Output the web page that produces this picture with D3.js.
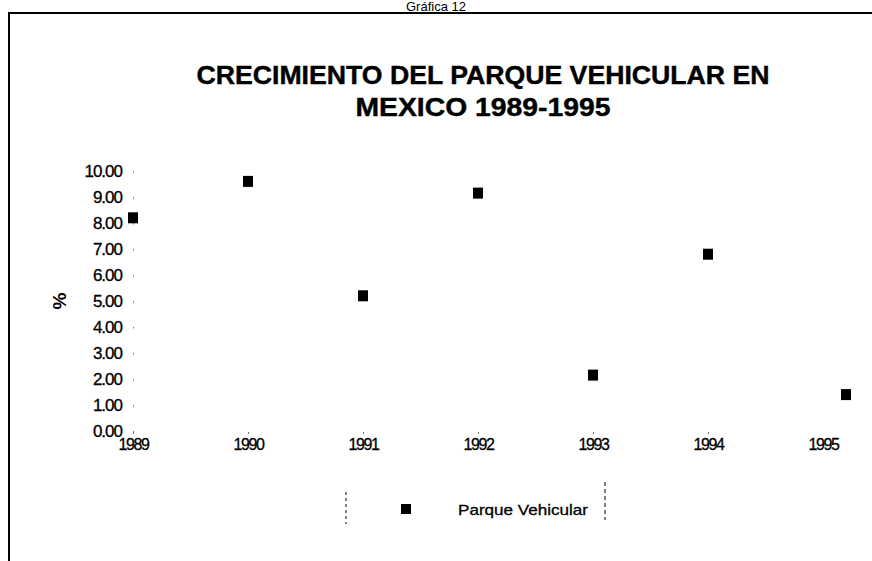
<!DOCTYPE html>
<html><head><meta charset="utf-8">
<script src="https://cdn.jsdelivr.net/npm/d3@7"></script>
<style>
html,body{margin:0;padding:0;background:#fff;}
text{font-family:"Liberation Sans",Arial,sans-serif;fill:#000;}
</style></head>
<body><svg id="c" width="872" height="561"></svg>
<script>
const years = [1989, 1990, 1991, 1992, 1993, 1994, 1995];
const xPositions = [1989, 1990, 1991, 1992, 1993, 1994, 1995.2];
const values = [8.2, 9.6, 5.2, 9.15, 2.15, 6.8, 1.4];
const yTicks = [0,1,2,3,4,5,6,7,8,9,10];
const seriesName = "Parque Vehicular";
const titleLines = ["CRECIMIENTO DEL PARQUE VEHICULAR EN", "MEXICO 1989-1995"];
const pageTitle = "Gráfica 12";

const svg = d3.select("#c");
const x = d3.scaleLinear().domain([1989, 1995]).range([133, 823]);
const y = d3.scaleLinear().domain([0, 10]).range([431, 171]);

// frame
svg.append("path").attr("d", "M9,561 V13 H872").attr("fill","none").attr("stroke","#000").attr("stroke-width",2);
svg.append("text").attr("x",436).attr("y",11).attr("text-anchor","middle").attr("font-size",13).text(pageTitle);

// title
svg.append("text").attr("x",483).attr("y",84).attr("text-anchor","middle").attr("font-size",25).attr("font-weight","bold")
  .attr("textLength",573).attr("lengthAdjust","spacingAndGlyphs").attr("stroke","#000").attr("stroke-width",0.4).text(titleLines[0]);
svg.append("text").attr("x",483).attr("y",116).attr("text-anchor","middle").attr("font-size",25).attr("font-weight","bold")
  .attr("textLength",255).attr("lengthAdjust","spacingAndGlyphs").attr("stroke","#000").attr("stroke-width",0.4).text(titleLines[1]);

// y axis
const yAxis = d3.axisLeft(y).tickValues(yTicks).tickFormat(d3.format(".2f")).tickSize(0).tickPadding(11);
const gy = svg.append("g").attr("transform","translate(133,0)").call(yAxis);
gy.select(".domain").remove();
gy.selectAll("text").attr("font-size",17).attr("letter-spacing","-1").attr("stroke","#000").attr("stroke-width",0.3)
  .style("font-family","'Liberation Sans',Arial,sans-serif");
gy.selectAll(".tick").append("rect").attr("x",0).attr("y",-0.5).attr("width",1).attr("height",1.5).attr("fill","#777");

// x axis
const xAxis = d3.axisBottom(x).tickValues(years).tickFormat(d3.format("d")).tickSize(0).tickPadding(7);
const gx = svg.append("g").attr("transform","translate(0,432)").call(xAxis);
gx.select(".domain").remove();
gx.selectAll("text").attr("font-size",16).attr("letter-spacing","-1.4").attr("stroke","#000").attr("stroke-width",0.3)
  .style("font-family","'Liberation Sans',Arial,sans-serif");
gx.selectAll(".tick").filter(d => d < 1995).append("rect").attr("x",-0.5).attr("y",0).attr("width",1).attr("height",2).attr("fill","#777");

// y label
svg.append("text").attr("transform","translate(66,301) rotate(-90)").attr("text-anchor","middle")
  .attr("font-size",19).attr("font-weight","bold").text("%");

// markers
svg.append("g").selectAll("rect").data(values).join("rect")
  .attr("x",(d,i)=>x(xPositions[i])-5).attr("y",d=>y(d)-5.5)
  .attr("width",10).attr("height",11).attr("fill","#000");

// legend
svg.append("line").attr("x1",346).attr("x2",346).attr("y1",492).attr("y2",524).attr("stroke","#000").attr("stroke-dasharray","3,3");
svg.append("line").attr("x1",605).attr("x2",605).attr("y1",482).attr("y2",520).attr("stroke","#000").attr("stroke-dasharray","4,3");
svg.append("rect").attr("x",401).attr("y",504).attr("width",10).attr("height",10).attr("fill","#000");
svg.append("text").attr("x",458).attr("y",515).attr("font-size",15).attr("stroke","#000").attr("stroke-width",0.3)
  .attr("textLength",130).attr("lengthAdjust","spacingAndGlyphs").text(seriesName);
</script></body></html>
